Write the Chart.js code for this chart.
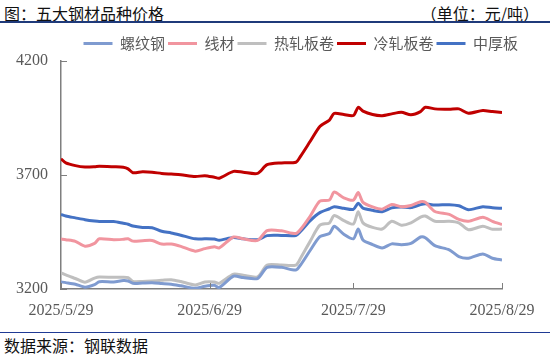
<!DOCTYPE html>
<html>
<head>
<meta charset="utf-8">
<script src="https://cdn.jsdelivr.net/npm/chart.js@4.4.1/dist/chart.umd.min.js"></script>
<style>
    html, body { margin: 0; padding: 0; background: #fff; }
    body { width: 550px; height: 354px; position: relative; overflow: hidden; font-family: "Noto Sans CJK SC", sans-serif; }
    .title { position: absolute; left: 4px; top: 2px; font-size: 16px; color: #111; line-height: 22px; }
    .unit { position: absolute; right: 11px; top: 2px; font-size: 16px; color: #111; line-height: 22px; }
    .rule-top { position: absolute; left: 0; top: 21px; width: 550px; height: 2px; background: #1f3a7a; }
    .rule-bottom { position: absolute; left: 0; top: 332px; width: 550px; height: 1px; background: #1f3a94; }
    .source { position: absolute; left: 4px; top: 335px; font-size: 16px; color: #111; line-height: 20px; }
    #wrap { position: absolute; left: 0; top: 24px; width: 550px; height: 306px; }
</style>
</head>
<body>
<div class="title">图：五大钢材品种价格</div>
<div class="unit">（单位：元/吨）</div>
<div class="rule-top"></div>
<div id="wrap"><canvas id="priceChart"></canvas></div>
<div class="rule-bottom"></div>
<div class="source">数据来源：钢联数据</div>

<script>
// days counted from 2025/5/29
const days = [0, 1, 3, 5, 7, 8, 11, 13, 14, 15, 17, 19, 21, 23, 25, 28, 30, 32, 33, 36, 38, 41, 43, 46,
    49, 50, 52, 54, 56, 57, 59, 61, 62, 63, 65, 67, 69, 71, 73, 75, 76, 78, 81, 83, 85, 88, 90, 92];

const rebar = [3231, 3228, 3221, 3208, 3219, 3232, 3231, 3237, 3235, 3225, 3226, 3227, 3224, 3221, 3214, 3203,
    3212, 3216, 3206, 3256, 3250, 3246, 3295, 3295, 3283, 3306, 3370, 3430, 3443, 3475, 3440, 3420,
    3463, 3415, 3395, 3380, 3398, 3394, 3400, 3428, 3425, 3390, 3372, 3342, 3335, 3354, 3335, 3327];

const wireRod = [3419, 3416, 3409, 3388, 3400, 3420, 3416, 3418, 3420, 3410, 3412, 3413, 3397, 3397, 3387, 3366,
    3377, 3385, 3380, 3428, 3420, 3413, 3456, 3455, 3443, 3462, 3520, 3585, 3590, 3625, 3600, 3590,
    3623, 3580, 3560, 3550, 3571, 3561, 3566, 3583, 3580, 3540, 3527, 3505, 3497, 3515, 3497, 3483];

const hotRolled = [3271, 3262, 3246, 3230, 3248, 3253, 3251, 3252, 3250, 3233, 3233, 3235, 3238, 3241, 3233, 3218,
    3231, 3231, 3225, 3265, 3260, 3253, 3305, 3305, 3305, 3336, 3410, 3480, 3490, 3522, 3500, 3485,
    3539, 3490, 3470, 3463, 3497, 3480, 3490, 3515, 3520, 3497, 3497, 3490, 3460, 3475, 3462, 3463];

const coldRolled = [3771, 3753, 3741, 3735, 3736, 3738, 3736, 3734, 3727, 3710, 3714, 3712, 3707, 3704, 3701, 3693,
    3697, 3690, 3686, 3716, 3712, 3707, 3745, 3753, 3756, 3783, 3848, 3913, 3941, 3970, 3965, 3961,
    3997, 3980, 3965, 3960, 3968, 3975, 3964, 3978, 3997, 3990, 3988, 3990, 3971, 3983, 3978, 3974];

const mediumPlate = [3527, 3520, 3512, 3504, 3498, 3496, 3496, 3488, 3484, 3476, 3470, 3469, 3453, 3446, 3436, 3420,
    3420, 3419, 3414, 3426, 3420, 3416, 3434, 3435, 3435, 3453, 3500, 3535, 3552, 3561, 3554, 3549,
    3576, 3555, 3545, 3539, 3556, 3560, 3557, 3570, 3574, 3568, 3570, 3565, 3548, 3561, 3556, 3554];

const seriesNames = ['螺纹钢', '线材', '热轧板卷', '冷轧板卷', '中厚板'];
const seriesColors = ['#7f9bd0', '#f1959f', '#bfbfbf', '#c00000', '#4472c4'];

const tickDays = [0, 31, 61, 92];
const tickLabels = ['2025/5/29', '2025/6/29', '2025/7/29', '2025/8/29'];
const yTicks = [3200, 3700, 4200];

const axisColor = '#7f7f7f';
const labelColor = '#595959';

function toPoints(values) {
    return values.map((v, i) => ({ x: days[i], y: v }));
}

// short tick marks pointing into the plot
const innerTicks = {
    id: 'innerTicks',
    afterDraw(chart) {
        const { ctx, chartArea, scales } = chart;
        ctx.save();
        ctx.strokeStyle = axisColor;
        ctx.lineWidth = 1;
        yTicks.forEach(v => {
            const y = Math.round(scales.y.getPixelForValue(v)) + 0.5;
            ctx.beginPath();
            ctx.moveTo(chartArea.left, y);
            ctx.lineTo(chartArea.left + 6, y);
            ctx.stroke();
        });
        tickDays.forEach(d => {
            const x = Math.round(scales.x.getPixelForValue(d)) + 0.5;
            ctx.beginPath();
            ctx.moveTo(x, chartArea.bottom);
            ctx.lineTo(x, chartArea.bottom - 6);
            ctx.stroke();
        });
        ctx.restore();
    }
};

const allSeries = [rebar, wireRod, hotRolled, coldRolled, mediumPlate];

const ctx = document.getElementById('priceChart').getContext('2d');
new Chart(ctx, {
    type: 'line',
    data: {
        datasets: allSeries.map((values, i) => ({
            label: seriesNames[i],
            data: toPoints(values),
            borderColor: seriesColors[i],
            backgroundColor: seriesColors[i],
            borderWidth: 3,
            pointRadius: 0,
            tension: 0.25,
            fill: false
        }))
    },
    options: {
        responsive: true,
        maintainAspectRatio: false,
        animation: false,
        layout: { padding: { left: 15, right: 29, top: 9, bottom: 0 } },
        plugins: {
            tooltip: { enabled: false },
            legend: {
                position: 'top',
                align: 'end',
                labels: {
                    boxWidth: 29,
                    boxHeight: 3,
                    padding: 3,
                    color: labelColor,
                    font: { family: '"Noto Sans CJK SC", sans-serif', size: 15 },
                    generateLabels(chart) {
                        const items = Chart.defaults.plugins.legend.labels.generateLabels(chart);
                        return items.map(it => ({ ...it, lineWidth: 0 }));
                    }
                }
            }
        },
        scales: {
            x: {
                type: 'linear',
                min: 0,
                max: 92,
                grid: { display: false, drawTicks: false },
                border: { display: true, color: axisColor, width: 1.5 },
                afterBuildTicks(scale) {
                    scale.ticks = tickDays.map(d => ({ value: d }));
                },
                afterFit(scale) {
                    scale.paddingLeft = 0;
                    scale.paddingRight = 48;
                    scale.height = 41;
                },
                ticks: {
                    padding: 12,
                    maxRotation: 0,
                    autoSkip: false,
                    color: labelColor,
                    font: { family: '"Liberation Serif", serif', size: 16 },
                    callback: (value) => tickLabels[tickDays.indexOf(value)]
                }
            },
            y: {
                min: 3200,
                max: 4200,
                grid: { display: false, drawTicks: false },
                border: { display: true, color: axisColor, width: 1.5 },
                afterFit(scale) {
                    scale.width = 46;
                    scale.paddingTop = 0;
                    scale.paddingBottom = 0;
                },
                ticks: {
                    stepSize: 500,
                    padding: 13,
                    color: labelColor,
                    font: { family: '"Liberation Serif", serif', size: 16 },
                    callback: (value) => String(value)
                }
            }
        }
    },
    plugins: [innerTicks]
});
</script>
</body>
</html>
